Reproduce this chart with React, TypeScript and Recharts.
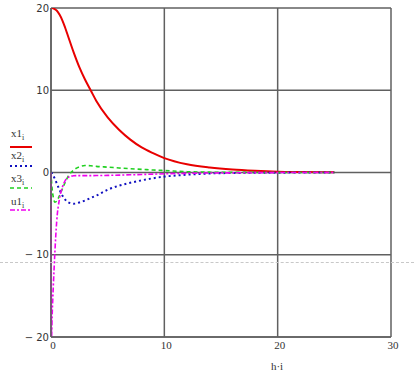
import { LineChart, Line, XAxis, YAxis, CartesianGrid } from "recharts";

const tValues = [0, 0.05, 0.1, 0.2, 0.35, 0.5, 0.75, 1, 1.25, 1.5, 2, 2.5, 3, 3.5, 4, 5, 6, 7, 8, 9, 10, 12, 14, 16, 18, 20, 22, 25];
const x1Values = [20, 20, 20, 19.95, 19.85, 19.7, 19.2, 18.5, 17.6, 16.6, 14.6, 12.8, 11.3, 10.0, 8.7, 6.7, 5.2, 4.0, 3.05, 2.35, 1.75, 1.0, 0.6, 0.35, 0.2, 0.1, 0.06, 0.03];
const x2Values = [0, -0.05, -0.15, -0.4, -0.8, -1.3, -2.1, -2.8, -3.3, -3.6, -3.8, -3.65, -3.4, -3.1, -2.8, -2.1, -1.6, -1.25, -0.95, -0.7, -0.5, -0.27, -0.12, -0.06, -0.03, -0.02, -0.01, 0];
const x3Values = [0, -1.2, -2.0, -3.0, -3.6, -3.5, -2.8, -2.0, -1.2, -0.5, 0.3, 0.7, 0.85, 0.82, 0.75, 0.65, 0.55, 0.46, 0.38, 0.3, 0.24, 0.1, 0.04, 0.02, 0.01, 0, 0, 0];
const u1Values = [0, -20, -17.5, -14, -9.5, -6, -3.2, -1.8, -1.0, -0.6, -0.4, -0.38, -0.38, -0.38, -0.37, -0.35, -0.32, -0.28, -0.24, -0.2, -0.16, -0.1, -0.06, -0.04, -0.02, -0.01, 0, 0];

const xTicks = [0, 10, 20, 30];
const yTicks = [-20, -10, 0, 10, 20];

const series = [
  { key: "x1", name: "x1", color: "#e80000", width: 2, dash: undefined },
  { key: "x2", name: "x2", color: "#1010c0", width: 2, dash: "2 3" },
  { key: "x3", name: "x3", color: "#20d020", width: 1.6, dash: "4 3" },
  { key: "u1", name: "u1", color: "#f000f0", width: 1.6, dash: "5 2 2 2" },
];

const data = tValues.map((t, i) => ({
  t,
  x1: x1Values[i],
  x2: x2Values[i],
  x3: x3Values[i],
  u1: u1Values[i],
}));

const legendRows = [
  { textY: 137, lineY: 147 },
  { textY: 159, lineY: 166 },
  { textY: 182, lineY: 188 },
  { textY: 205, lineY: 210 },
];

const fmtY = (v: number) => (v < 0 ? `\u2212 ${Math.abs(v)}` : `${v}`);

export default function App() {
  return (
    <div style={{ position: "absolute", left: 0, top: 0, width: 414, height: 379, background: "#fff" }}>
      <LineChart width={414} height={379} data={data} margin={{ top: 8, right: 23, bottom: 12, left: 0 }}>
        <CartesianGrid stroke="#606060" strokeWidth={1.5} />
        <XAxis
          dataKey="t"
          type="number"
          domain={[0, 30]}
          ticks={xTicks}
          height={30}
          tickLine={false}
          tickSize={0}
          tickMargin={4}
          axisLine={{ stroke: "#606060", strokeWidth: 1.5 }}
          tick={{ fill: "#333", fontSize: 11, fontFamily: "Liberation Serif", dx: 2 }}
          label={{ value: "h\u00b7i", position: "insideBottom", dx: 56, dy: 8, fill: "#333", fontSize: 11, fontFamily: "Liberation Serif" }}
        />
        <YAxis
          type="number"
          domain={[-20, 20]}
          ticks={yTicks}
          width={51}
          tickLine={false}
          tickSize={0}
          tickMargin={2}
          tickFormatter={fmtY}
          axisLine={{ stroke: "#606060", strokeWidth: 1.5 }}
          tick={{ fill: "#333", fontSize: 10, fontFamily: "DejaVu Sans" }}
          allowDataOverflow
        />
        {series.map((s) => (
          <Line
            key={s.key}
            dataKey={s.key}
            type="monotone"
            stroke={s.color}
            strokeWidth={s.width}
            strokeDasharray={s.dash}
            dot={false}
            isAnimationActive={false}
          />
        ))}
      </LineChart>
      <svg width={50} height={379} style={{ position: "absolute", left: 0, top: 0 }}>
        {series.map((s, i) => (
          <g key={s.key}>
            <text x={11} y={legendRows[i].textY} fontSize={11} fontFamily="Liberation Serif" fill="#333">
              {s.name}
              <tspan fontSize={8} dy={3}>i</tspan>
            </text>
            <line
              x1={10}
              x2={32}
              y1={legendRows[i].lineY}
              y2={legendRows[i].lineY}
              stroke={s.color}
              strokeWidth={s.width}
              strokeDasharray={s.dash}
            />
          </g>
        ))}
      </svg>
      <div style={{ position: "absolute", left: 0, top: 262, width: 414, borderTop: "1px dashed #c8c8c8" }} />
    </div>
  );
}
